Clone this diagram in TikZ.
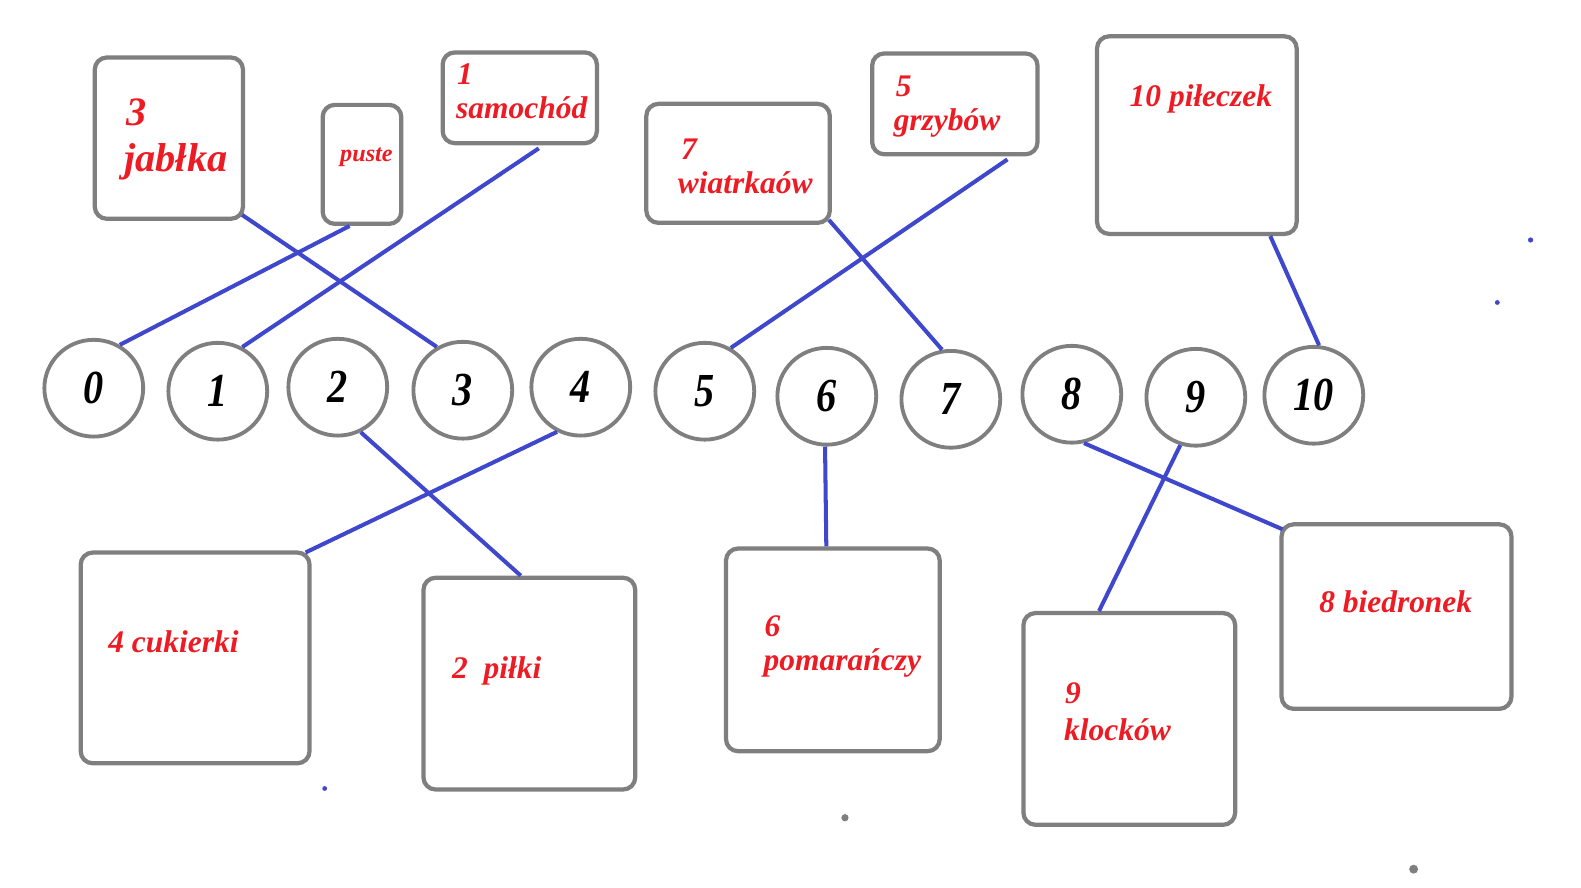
\documentclass[tikz,border=0pt]{standalone}
\usepackage{fontspec}
\setmainfont{Liberation Serif}
\newfontfamily\digfont[FakeStretch=0.85]{Liberation Serif}
\usetikzlibrary{shapes.geometric,calc}
\definecolor{boxgray}{RGB}{127,127,127}
\definecolor{lineblue}{RGB}{63,72,204}
\definecolor{txtred}{RGB}{237,28,36}
\begin{document}
\begin{tikzpicture}[x=0.5pt,y=-0.5pt,
 box/.style={draw=boxgray,line width=2.1pt,rounded corners=6pt,inner sep=0pt,fill=white},
 num/.style={ellipse,draw=boxgray,line width=1.9pt,minimum width=49pt,minimum height=48pt,inner sep=0pt,fill=white,font=\digfont\bfseries\itshape\fontsize{23.5}{23.5}\selectfont},
 lbl/.style={text=txtred,inner sep=0pt,anchor=base west,font=\bfseries\itshape\fontsize{15.6}{16}\selectfont},
 lblbig/.style={lbl,font=\bfseries\itshape\fontsize{20}{20}\selectfont},
 lblsmall/.style={lbl,font=\bfseries\itshape\fontsize{12}{12}\selectfont},
 link/.style={draw=lineblue,line width=2pt}]
\useasboundingbox (0,0) rectangle (1568,880);

% boxes
\node[box,minimum width=73.5pt,minimum height=80pt] (jab) at (167.5,137) {};
\node[box,minimum width=39pt,minimum height=59pt] (pus) at (359,163) {};
\node[box,minimum width=76.5pt,minimum height=45pt] (sam) at (515.5,97) {};
\node[box,minimum width=91pt,minimum height=59pt] (wia) at (732,162) {};
\node[box,minimum width=82pt,minimum height=50pt] (grz) at (947,103) {};
\node[box,minimum width=99pt,minimum height=98pt] (pil) at (1187,134) {};
\node[box,minimum width=113.5pt,minimum height=104.5pt] (cuk) at (193.5,652.5) {};
\node[box,minimum width=105pt,minimum height=105pt] (pik) at (525,678) {};
\node[box,minimum width=106pt,minimum height=100.5pt] (pom) at (826,644.5) {};
\node[box,minimum width=105pt,minimum height=105pt] (klo) at (1120,713) {};
\node[box,minimum width=114pt,minimum height=91.5pt] (bie) at (1385,611.5) {};

% labels
\node[lblbig] (t3a) at (125,124) {3};
\node[lblbig] (t3b) at (123,170) {jabłka};
\node[lblsmall] (tp) at (337,160) {puste};
\node[lbl] (t1a) at (453,84) {1};
\node[lbl] (t1b) at (452,118) {samochód};
\node[lbl] (t7a) at (675,158) {7};
\node[lbl] (t7b) at (672,192) {wiatrkaów};
\node[lbl] (t5a) at (888,96) {5};
\node[lbl] (t5b) at (886,129) {grzybów};
\node[lbl] (t10) at (1120,106) {10 piłeczek};
\node[lbl] (t4) at (107,647) {4 cukierki};
\node[lbl] (t2) at (448,673) {2\ \ piłki};
\node[lbl] (t6a) at (758,631) {6};
\node[lbl] (t6b) at (757,665) {pomarańczy};
\node[lbl] (t9a) at (1056,698) {9};
\node[lbl] (t9b) at (1055,734) {klocków};
\node[lbl] (t8) at (1308,607) {8 biedronek};

% number circles
\node[num] (c0) at (93,385) {0};
\node[num] (c1) at (216,388) {1};
\node[num] (c2) at (335,384) {2};
\node[num] (c3) at (459,387) {3};
\node[num] (c4) at (576,384) {4};
\node[num] (c5) at (699,388) {5};
\node[num] (c6) at (820,393) {6};
\node[num] (c7) at (943,396) {7};
\node[num] (c8) at (1063,391) {8};
\node[num] (c9) at (1186,394) {9};
\node[num] (c10) at (1303,392) {10};

% connectors
\draw[link] ($(jab.south east)+(-3,-6)$) -- (c3.121);
\draw[link] ($(pus.south west)!0.35!(pus.south east)$) -- (c0.59);
\draw[link] ($(sam.south west)!0.62!(sam.south east)+(0,3)$) -- (c1.61);
\draw[link] ($(wia.south east)+(-3,-5)$) -- (c7.100);
\draw[link] ($(grz.south west)!0.81!(grz.south east)+(0,3)$) -- (c5.59);
\draw[link] ($(pil.south west)!0.86!(pil.south east)$) -- (c10.84);
\draw[link] (c2.-63) -- ($(pik.north west)!0.46!(pik.north east)$);
\draw[link] (c4.-118) -- ($(cuk.north east)+(-6,2)$);
\draw[link] (c6.-92) -- ($(pom.north west)!0.47!(pom.north east)$);
\draw[link] (c8.-76) -- ($(bie.north west)+(3,7)$);
\draw[link] (c9.-108) -- ($(klo.north west)!0.36!(klo.north east)$);

% specks
\fill[lineblue] (1518,238) circle (1.3pt);
\fill[lineblue] (1485,300) circle (1.2pt);
\fill[lineblue] (322,782) circle (1.2pt);
\fill[boxgray] (838,811) circle (1.8pt);
\fill[boxgray] (1402,862) circle (2.2pt);
\end{tikzpicture}
\end{document}
